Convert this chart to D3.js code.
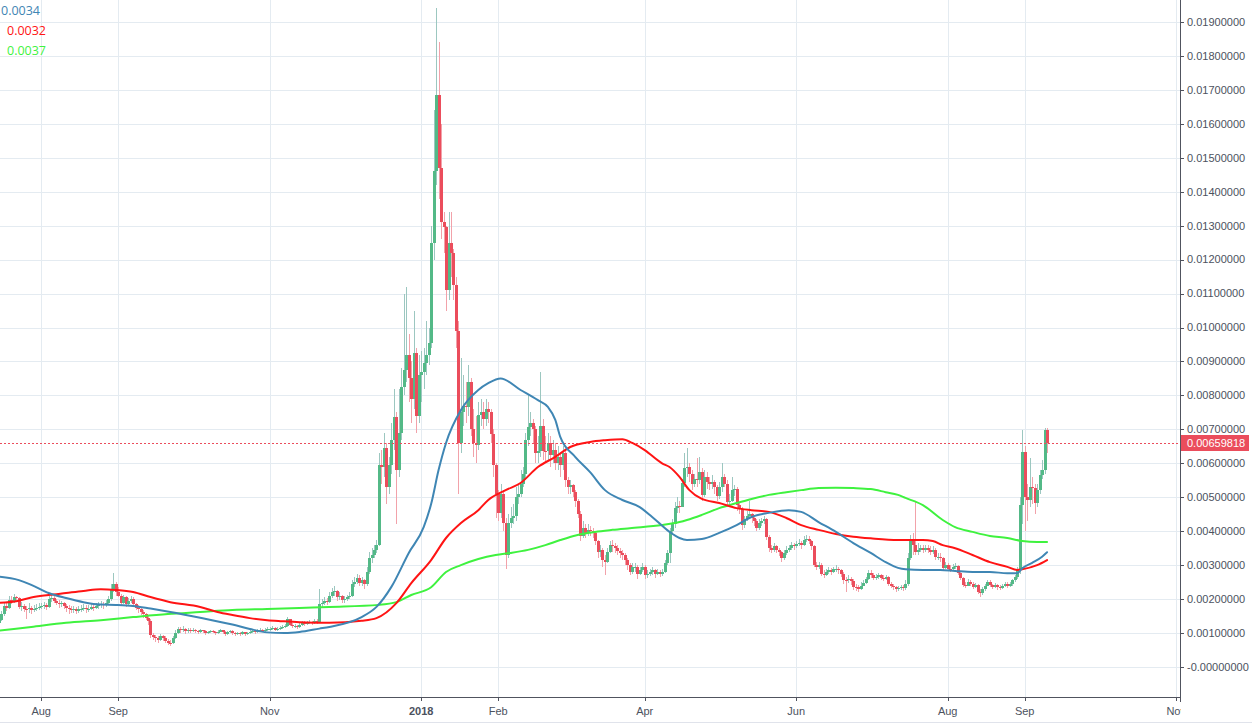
<!DOCTYPE html>
<html><head><meta charset="utf-8">
<script src="https://cdn.jsdelivr.net/npm/d3@7"></script>
<style>
html,body{margin:0;padding:0;background:#fff;overflow:hidden}
svg{display:block}
</style></head><body>
<svg id="chart" width="1252" height="724"></svg>
<script>
// ---------------- DATA (prices in units of 0.001 BTC) ----------------
const PRICE_UNIT = 0.001;
const firstOpen = 1.25;
// each row = one month of daily candles, starting at monthStarts[i]
const monthStarts = ["2017-07-14","2017-08-01","2017-09-01","2017-10-01","2017-11-01","2017-12-01",
  "2018-01-01","2018-02-01","2018-03-01","2018-04-01","2018-05-01","2018-06-01","2018-07-01","2018-08-01","2018-09-01"];
const closes = [
 [1.30,1.38,1.55,1.80,1.75,1.98,1.95,2.05,2.02,1.78,1.80,1.72,1.70,1.75,1.68,1.72,1.75,1.78],
 [1.80,1.82,1.78,2.00,2.02,1.95,1.90,1.85,1.88,1.80,1.75,1.72,1.68,1.70,1.65,1.70,1.72,1.75,1.70,1.72,1.78,1.75,1.80,1.82,1.85,1.82,1.90,2.00,2.30,2.45,2.20],
 [2.10,1.90,2.05,1.85,1.95,2.00,1.85,1.75,1.70,1.62,1.55,1.45,1.35,0.95,0.88,0.85,0.80,0.90,0.85,0.78,0.72,0.70,0.85,1.00,1.12,1.08,1.12,1.05,1.10,1.08],
 [1.10,1.05,1.02,1.08,1.05,1.00,1.02,1.06,1.03,1.00,1.04,1.08,1.02,0.98,1.03,1.05,1.00,0.97,1.00,0.96,1.02,0.98,1.00,1.04,1.06,1.03,1.08,1.10,1.06,1.10,1.12],
 [1.12,1.15,1.10,1.13,1.15,1.18,1.20,1.40,1.25,1.20,1.22,1.18,1.25,1.30,1.28,1.30,1.32,1.30,1.35,1.32,1.85,1.88,1.95,1.92,2.10,2.20,2.25,2.05,2.10,1.98],
 [2.00,2.05,2.10,2.45,2.50,2.62,2.48,2.55,2.45,2.80,3.20,3.30,3.45,3.60,5.95,5.90,6.45,5.30,5.95,6.70,7.35,5.80,6.90,8.25,8.75,9.20,8.50,7.90,9.25,7.40,8.60],
 [8.70,8.95,9.20,9.55,12.50,14.60,16.85,14.70,13.10,12.95,11.10,12.50,12.20,11.25,9.90,6.60,7.50,7.70,7.65,8.40,7.00,6.60,6.55,7.42,7.50,7.30,7.60,7.50,6.85,5.95,5.10],
 [4.55,5.10,4.25,3.30,4.25,4.40,4.45,5.00,5.10,5.40,5.70,6.68,7.07,7.20,7.00,6.30,6.35,7.10,6.37,6.35,6.60,6.25,6.40,6.00,6.20,5.95,6.30,5.50],
 [5.30,5.35,5.15,4.90,4.52,3.85,4.10,3.95,4.05,4.00,3.95,3.70,3.38,3.45,3.15,3.10,3.40,3.60,3.55,3.50,3.42,3.35,3.30,3.15,3.00,2.80,2.95,2.95,2.75,2.85,2.95],
 [2.70,2.75,2.80,2.85,2.75,2.80,2.75,2.80,3.05,3.35,4.00,4.20,4.68,4.75,4.72,5.42,5.86,5.90,5.70,5.40,5.55,5.50,5.75,5.07,5.60,5.45,5.40,5.45,5.30,5.05],
 [5.30,5.60,5.40,4.86,4.90,5.20,5.25,4.77,4.65,4.18,4.35,4.45,4.50,4.40,4.30,4.10,4.25,4.30,4.35,3.83,3.50,3.45,3.55,3.45,3.38,3.20,3.35,3.45,3.50,3.60,3.55],
 [3.62,3.65,3.58,3.75,3.78,3.72,3.55,3.00,2.95,3.00,2.75,2.72,2.80,2.85,2.80,2.88,2.90,2.85,2.75,2.56,2.55,2.60,2.52,2.36,2.35,2.30,2.40,2.48,2.58,2.77],
 [2.72,2.62,2.66,2.70,2.62,2.60,2.64,2.45,2.40,2.36,2.30,2.33,2.36,2.32,2.45,3.20,3.73,3.60,3.40,3.45,3.50,3.45,3.50,3.45,3.40,3.45,3.25,3.25,3.20,2.92,3.00],
 [2.90,2.88,2.95,2.97,2.76,2.61,2.42,2.40,2.50,2.45,2.37,2.42,2.22,2.17,2.30,2.40,2.50,2.42,2.37,2.42,2.35,2.33,2.40,2.45,2.40,2.45,2.55,2.65,2.85,4.77,6.33],
 [5.00,4.92,5.30,5.28,4.83,5.20,5.65,5.80,6.98,6.59818]
];
const highs = [
 [1.40,1.45,1.65,1.90,1.92,2.10,2.08,2.15,2.10,2.05,1.92,1.85,1.80,1.88,1.80,1.82,1.85,1.88],
 [1.88,1.92,1.88,2.08,2.12,2.08,2.00,1.98,1.95,1.92,1.85,1.82,1.80,1.80,1.78,1.80,1.82,1.85,1.82,1.82,1.88,1.85,1.90,1.92,1.95,1.92,1.98,2.10,2.45,2.77,2.50],
 [2.35,2.15,2.12,2.08,2.02,2.10,2.05,1.90,1.82,1.78,1.68,1.60,1.50,1.40,1.00,0.95,0.92,0.98,0.95,0.90,0.82,0.80,0.90,1.08,1.18,1.18,1.20,1.15,1.15,1.15],
 [1.15,1.13,1.08,1.12,1.10,1.08,1.06,1.10,1.08,1.05,1.08,1.12,1.10,1.05,1.07,1.10,1.08,1.03,1.04,1.02,1.06,1.04,1.04,1.08,1.12,1.09,1.12,1.15,1.12,1.14,1.18],
 [1.18,1.20,1.17,1.18,1.20,1.24,1.26,1.48,1.42,1.30,1.28,1.25,1.30,1.36,1.35,1.36,1.38,1.36,1.40,1.40,2.30,2.00,2.05,2.02,2.20,2.32,2.40,2.28,2.22,2.12],
 [2.10,2.12,2.20,2.55,2.65,2.75,2.70,2.65,2.60,2.95,3.40,3.50,3.60,3.75,6.30,6.40,6.90,6.60,6.20,7.20,8.20,7.50,8.20,8.80,11.0,11.2,9.80,9.00,10.5,9.40,9.20],
 [9.30,9.40,10.2,10.0,13.0,16.4,19.4,18.4,16.0,13.4,13.0,13.4,13.4,12.3,11.5,10.2,9.10,8.60,8.40,8.90,8.50,7.60,7.40,7.80,7.90,7.80,7.90,7.80,7.60,7.00,6.00],
 [5.20,5.40,5.20,4.40,4.50,4.70,4.80,5.30,5.40,5.80,5.90,6.90,8.00,7.50,7.30,7.10,6.80,8.70,7.30,6.80,6.90,6.80,6.70,6.60,6.50,6.30,6.50,6.40],
 [5.60,5.50,5.40,5.20,4.95,4.60,4.30,4.20,4.20,4.15,4.10,4.00,3.75,3.60,3.50,3.30,3.50,3.70,3.75,3.65,3.60,3.50,3.45,3.35,3.20,3.05,3.05,3.05,3.00,2.95,3.05],
 [3.00,2.85,2.90,2.95,2.90,2.90,2.85,2.90,3.15,3.45,4.10,4.35,4.85,5.00,4.90,5.55,6.30,6.45,6.00,5.80,5.70,6.15,6.20,5.85,5.80,5.75,5.60,5.65,5.50,5.35],
 [5.45,6.00,5.70,5.50,5.10,5.60,5.35,5.30,4.85,4.70,4.45,4.60,4.90,4.55,4.45,4.35,4.35,4.40,4.45,4.40,3.90,3.60,3.65,3.60,3.50,3.42,3.45,3.55,3.58,3.68,3.65],
 [3.72,3.78,3.70,3.85,3.88,3.85,3.75,3.58,3.10,3.10,3.05,2.85,2.90,2.95,2.92,2.95,3.00,2.95,2.90,2.80,2.65,2.70,2.65,2.58,2.45,2.42,2.50,2.55,2.65,2.85],
 [2.85,2.78,2.75,2.78,2.75,2.70,2.72,2.68,2.50,2.45,2.40,2.40,2.42,2.42,2.55,3.35,3.90,3.95,4.86,3.65,3.60,3.60,3.60,3.58,3.55,3.55,3.50,3.35,3.35,3.25,3.08],
 [3.05,3.00,3.02,3.05,3.00,2.80,2.65,2.50,2.58,2.55,2.50,2.48,2.45,2.30,2.35,2.45,2.55,2.55,2.45,2.48,2.45,2.42,2.45,2.50,2.50,2.50,2.60,2.72,2.95,5.00,6.98],
 [6.50,5.40,6.15,5.60,5.40,5.40,5.80,6.10,7.05,7.05]
];
const lows = [
 [1.22,1.25,1.35,1.50,1.65,1.70,1.85,1.90,1.92,1.70,1.65,1.62,1.40,1.60,1.55,1.62,1.65,1.68],
 [1.70,1.72,1.68,1.75,1.92,1.88,1.82,1.75,1.78,1.70,1.62,1.55,1.58,1.60,1.55,1.60,1.62,1.65,1.60,1.62,1.68,1.65,1.70,1.72,1.75,1.72,1.78,1.85,1.95,2.20,2.10],
 [2.05,1.80,1.85,1.78,1.80,1.88,1.80,1.68,1.60,1.52,1.45,1.38,1.25,0.85,0.80,0.75,0.72,0.78,0.78,0.70,0.66,0.62,0.68,0.82,0.98,1.00,1.02,0.98,1.00,1.00],
 [1.03,1.00,0.97,1.00,1.01,0.95,0.97,1.00,0.99,0.95,0.98,1.02,0.98,0.92,0.95,1.00,0.94,0.90,0.94,0.90,0.94,0.92,0.95,0.98,1.01,0.98,1.00,1.04,1.02,1.04,1.07],
 [1.07,1.08,1.05,1.07,1.10,1.12,1.14,1.18,1.20,1.14,1.15,1.12,1.16,1.22,1.22,1.24,1.26,1.24,1.28,1.26,1.30,1.75,1.82,1.82,1.90,2.02,2.08,1.95,1.98,1.90],
 [1.90,1.95,2.00,2.05,2.35,2.45,2.40,2.40,2.30,2.40,2.75,3.05,3.20,3.35,3.55,5.40,5.60,4.80,5.10,5.70,6.40,4.20,5.60,6.70,8.00,8.40,7.80,7.20,7.60,6.90,7.20],
 [7.80,8.20,8.60,8.90,9.40,12.0,14.2,13.8,12.6,12.2,10.5,10.8,11.5,10.8,9.40,5.10,6.30,7.10,7.20,7.40,6.80,6.20,6.00,6.40,7.10,7.00,7.10,7.20,6.60,5.60,4.40],
 [4.30,4.40,4.00,2.90,3.20,4.10,4.20,4.30,4.80,5.00,5.30,5.50,6.50,6.80,6.60,6.00,6.00,6.20,6.10,6.00,6.10,5.90,6.00,5.80,5.80,5.60,5.80,5.30],
 [5.10,5.10,5.00,4.70,4.40,3.70,3.80,3.80,3.85,3.85,3.80,3.60,3.20,3.25,2.95,2.70,3.05,3.35,3.40,3.35,3.30,3.20,3.15,3.00,2.85,2.70,2.75,2.80,2.60,2.70,2.80],
 [2.60,2.62,2.68,2.72,2.62,2.70,2.65,2.68,2.78,3.00,3.06,3.90,4.10,4.55,4.55,4.70,5.30,5.60,5.45,5.20,5.30,5.30,5.40,4.90,5.00,5.25,5.20,5.25,5.10,4.90],
 [4.95,5.15,5.30,4.75,4.70,4.85,5.05,4.60,4.50,4.05,4.10,4.30,4.35,4.25,4.15,4.00,4.05,4.15,4.20,3.75,3.40,3.35,3.40,3.35,3.28,3.10,3.15,3.30,3.40,3.45,3.45],
 [3.50,3.55,3.48,3.55,3.68,3.62,3.45,2.95,2.85,2.88,2.68,2.62,2.68,2.75,2.72,2.78,2.80,2.75,2.65,2.45,2.20,2.48,2.42,2.28,2.25,2.22,2.28,2.38,2.45,2.55],
 [2.62,2.55,2.55,2.60,2.55,2.52,2.55,2.40,2.32,2.28,2.20,2.25,2.28,2.25,2.28,2.40,3.15,3.30,3.30,3.30,3.38,3.35,3.38,3.35,3.30,3.32,3.15,3.15,3.10,2.85,2.88],
 [2.82,2.80,2.85,2.88,2.72,2.55,2.35,2.32,2.38,2.38,2.30,2.32,2.15,2.07,2.12,2.25,2.38,2.35,2.30,2.32,2.28,2.27,2.30,2.36,2.33,2.36,2.40,2.50,2.60,2.75,4.20],
 [4.00,4.30,4.70,4.80,4.50,4.70,5.10,5.55,5.70,6.30]
];
// moving averages: [date, value]
const maFast = [["2017-07-14",2.67],["2017-07-23",2.56],["2017-07-28",2.42],["2017-08-04",2.18],["2017-08-11",2.03],["2017-08-18",1.91],["2017-08-25",1.84],["2017-08-31",1.83],["2017-09-07",1.80],["2017-09-14",1.72],["2017-09-22",1.62],["2017-10-04",1.45],["2017-10-17",1.25],["2017-10-24",1.12],["2017-10-31",1.02],["2017-11-07",1.00],["2017-11-13",1.03],["2017-11-21",1.13],["2017-11-25",1.18],["2017-12-08",1.47],["2017-12-14",1.77],["2017-12-20",2.36],["2017-12-27",3.36],["2018-01-02",4.12],["2018-01-05",4.80],["2018-01-08",5.80],["2018-01-11",6.60],["2018-01-17",7.57],["2018-01-24",8.16],["2018-01-28",8.36],["2018-02-02",8.50],["2018-02-10",8.16],["2018-02-17",7.86],["2018-02-21",7.66],["2018-02-24",7.28],["2018-02-26",6.78],["2018-03-04",6.19],["2018-03-10",5.74],["2018-03-16",5.21],["2018-03-23",4.92],["2018-03-30",4.71],["2018-04-04",4.42],["2018-04-11",3.98],["2018-04-15",3.80],["2018-04-18",3.74],["2018-04-24",3.77],["2018-05-01",3.95],["2018-05-08",4.18],["2018-05-14",4.42],["2018-05-21",4.54],["2018-05-29",4.62],["2018-06-03",4.57],["2018-06-10",4.27],["2018-06-17",3.98],["2018-06-24",3.65],["2018-07-01",3.36],["2018-07-07",3.09],["2018-07-12",2.92],["2018-07-15",2.88],["2018-07-22",2.86],["2018-07-29",2.86],["2018-08-04",2.83],["2018-08-11",2.80],["2018-08-18",2.80],["2018-08-25",2.76],["2018-08-29",2.76],["2018-08-31",2.91],["2018-09-04",3.07],["2018-09-08",3.25],["2018-09-10",3.38]];
const maMid = [["2017-07-14",1.89],["2017-07-22",1.94],["2017-07-28",2.05],["2017-08-04",2.12],["2017-08-11",2.18],["2017-08-18",2.24],["2017-08-25",2.29],["2017-08-31",2.27],["2017-09-07",2.21],["2017-09-14",2.06],["2017-09-22",1.91],["2017-10-04",1.77],["2017-10-11",1.62],["2017-10-17",1.53],["2017-10-24",1.44],["2017-10-31",1.38],["2017-11-06",1.35],["2017-11-13",1.32],["2017-11-25",1.30],["2017-12-08",1.36],["2017-12-14",1.44],["2017-12-22",1.88],["2017-12-28",2.47],["2018-01-05",3.15],["2018-01-11",3.80],["2018-01-17",4.24],["2018-01-24",4.62],["2018-01-28",4.92],["2018-02-04",5.21],["2018-02-10",5.42],["2018-02-17",5.89],["2018-02-24",6.19],["2018-03-02",6.48],["2018-03-10",6.63],["2018-03-16",6.68],["2018-03-23",6.71],["2018-03-27",6.60],["2018-04-01",6.39],["2018-04-08",6.00],["2018-04-11",5.89],["2018-04-15",5.60],["2018-04-19",5.21],["2018-04-24",4.95],["2018-05-01",4.83],["2018-05-08",4.68],["2018-05-14",4.62],["2018-05-21",4.57],["2018-05-28",4.39],["2018-06-03",4.18],["2018-06-10",4.04],["2018-06-17",3.92],["2018-06-24",3.84],["2018-07-01",3.79],["2018-07-12",3.74],["2018-07-22",3.74],["2018-07-26",3.71],["2018-07-30",3.59],["2018-08-04",3.50],["2018-08-11",3.30],["2018-08-18",3.09],["2018-08-25",2.95],["2018-08-29",2.86],["2018-08-31",2.88],["2018-09-06",3.00],["2018-09-10",3.15]];
const maSlow = [["2017-07-14",1.06],["2017-07-28",1.18],["2017-08-11",1.30],["2017-08-25",1.38],["2017-09-07",1.47],["2017-09-21",1.56],["2017-10-04",1.62],["2017-10-17",1.68],["2017-10-31",1.71],["2017-11-13",1.74],["2017-11-25",1.77],["2017-12-15",1.83],["2017-12-22",1.91],["2017-12-28",2.12],["2018-01-05",2.35],["2018-01-11",2.80],["2018-01-17",3.00],["2018-01-24",3.18],["2018-01-31",3.30],["2018-02-06",3.36],["2018-02-13",3.45],["2018-02-20",3.59],["2018-02-26",3.74],["2018-03-05",3.89],["2018-03-12",3.98],["2018-03-19",4.04],["2018-03-26",4.09],["2018-04-08",4.18],["2018-04-15",4.27],["2018-04-18",4.33],["2018-04-24",4.48],["2018-05-01",4.68],["2018-05-08",4.83],["2018-05-14",4.95],["2018-05-21",5.07],["2018-05-28",5.15],["2018-06-03",5.21],["2018-06-10",5.27],["2018-06-17",5.28],["2018-06-24",5.27],["2018-07-01",5.24],["2018-07-07",5.15],["2018-07-12",5.07],["2018-07-15",4.98],["2018-07-22",4.77],["2018-07-30",4.33],["2018-08-04",4.12],["2018-08-11",3.98],["2018-08-18",3.86],["2018-08-25",3.80],["2018-08-31",3.71],["2018-09-06",3.68],["2018-09-10",3.68]];
const legendLabels = ["0.0034","0.0032","0.0037"];
const lastPrice = 6.59818;
const lastPriceLabel = "0.00659818";
const yTickValues = [0,1,2,3,4,5,6,7,8,9,10,11,12,13,14,15,16,17,18,19];
const yTickLabels = ["-0.00000000","0.00100000","0.00200000","0.00300000","0.00400000","0.00500000","0.00600000","0.00700000","0.00800000","0.00900000","0.01000000","0.01100000","0.01200000","0.01300000","0.01400000","0.01500000","0.01600000","0.01700000","0.01800000","0.01900000"];
const xTickDates = ["2017-08-01","2017-09-01","2017-11-01","2018-01-01","2018-02-01","2018-04-01","2018-06-01","2018-08-01","2018-09-01","2018-11-01"];
const xTickLabels = ["Aug","Sep","Nov","2018","Feb","Apr","Jun","Aug","Sep","Nov"];

// ---------------- CHART ----------------
const W = 1252, H = 724, plotRight = 1180, plotBottom = 697;
const colors = {up:"#53b987", down:"#eb4d5c", upWick:"#9cc7c0", downWick:"#f2a2aa",
  fast:"#3f86b4", mid:"#ff1414", slow:"#3ff23f", grid:"#e4ebf1", axis:"#50535e", text:"#4c525e"};
const parse = s => new Date(s + "T00:00:00Z");

const x = d3.scaleUtc().domain([parse("2017-08-01"), parse("2018-11-01")]).range([41.2, 1176.2]);
const y = d3.scaleLinear().domain([0, 0.019]).range([667, 22]);

const candles = [];
let prev = firstOpen * PRICE_UNIT;
monthStarts.forEach((s, m) => {
  const start = parse(s);
  closes[m].forEach((c, i) => {
    const date = new Date(start.getTime() + i * 86400000);
    const close = c * PRICE_UNIT, open = prev;
    const high = Math.max(highs[m][i] * PRICE_UNIT, open, close);
    const low = Math.min(lows[m][i] * PRICE_UNIT, open, close);
    candles.push({date, open, close, high, low});
    prev = close;
  });
});

const svg = d3.select("#chart");
svg.append("rect").attr("width", W).attr("height", H).attr("fill", "#fff");
const defs = svg.append("defs");
defs.append("clipPath").attr("id", "plotClip").append("rect").attr("x", 0).attr("y", 0).attr("width", plotRight).attr("height", plotBottom);
defs.append("clipPath").attr("id", "xAxisClip").append("rect").attr("x", 0).attr("y", plotBottom).attr("width", plotRight + 1).attr("height", H - plotBottom);

// grid
const grid = svg.append("g").attr("shape-rendering", "crispEdges");
grid.selectAll(".hg").data(yTickValues).join("line")
  .attr("x1", 0).attr("x2", plotRight)
  .attr("y1", d => Math.round(y(d * PRICE_UNIT)) + 0.5).attr("y2", d => Math.round(y(d * PRICE_UNIT)) + 0.5)
  .attr("stroke", colors.grid).attr("stroke-width", 1);
grid.selectAll(".vg").data(xTickDates).join("line")
  .attr("x1", d => Math.round(x(parse(d))) + 0.5).attr("x2", d => Math.round(x(parse(d))) + 0.5)
  .attr("y1", 0).attr("y2", plotBottom)
  .attr("stroke", colors.grid).attr("stroke-width", 1);

const plot = svg.append("g").attr("clip-path", "url(#plotClip)");

// candles
const cg = plot.append("g").attr("shape-rendering", "crispEdges");
cg.selectAll(".wick").data(candles).join("rect")
  .attr("x", d => Math.round(x(d.date)))
  .attr("width", 1)
  .attr("y", d => y(d.high))
  .attr("height", d => Math.max(1, y(d.low) - y(d.high)))
  .attr("fill", d => d.close >= d.open ? colors.upWick : colors.downWick);
cg.selectAll(".body").data(candles).join("rect")
  .attr("x", d => Math.round(x(d.date)) - 1)
  .attr("width", 3)
  .attr("y", d => y(Math.max(d.open, d.close)))
  .attr("height", d => Math.max(1, Math.abs(y(d.open) - y(d.close))))
  .attr("fill", d => d.close >= d.open ? colors.up : colors.down);

// last price line
plot.append("line")
  .attr("x1", 0).attr("x2", plotRight)
  .attr("y1", Math.round(y(lastPrice * PRICE_UNIT)) + 0.5).attr("y2", Math.round(y(lastPrice * PRICE_UNIT)) + 0.5)
  .attr("stroke", colors.down).attr("stroke-width", 1).attr("stroke-dasharray", "2,2");

// moving averages
const line = d3.line().x(d => x(parse(d[0]))).y(d => y(d[1] * PRICE_UNIT)).curve(d3.curveMonotoneX);
[[maSlow, colors.slow], [maMid, colors.mid], [maFast, colors.fast]].forEach(([data, c]) => {
  plot.append("path").attr("d", line(data)).attr("fill", "none").attr("stroke", c)
    .attr("stroke-width", 2).attr("stroke-linejoin", "round").attr("stroke-linecap", "round");
});

// right axis
const ra = svg.append("g");
ra.append("line").attr("x1", plotRight + 0.5).attr("x2", plotRight + 0.5).attr("y1", 0).attr("y2", plotBottom + 5)
  .attr("stroke", colors.axis).attr("shape-rendering", "crispEdges");
ra.selectAll(".yt").data(yTickValues).join("line")
  .attr("x1", plotRight).attr("x2", plotRight + 4)
  .attr("y1", d => Math.round(y(d * PRICE_UNIT)) + 0.5).attr("y2", d => Math.round(y(d * PRICE_UNIT)) + 0.5)
  .attr("stroke", colors.axis).attr("shape-rendering", "crispEdges");
ra.selectAll(".yl").data(yTickValues).join("text")
  .attr("x", plotRight + 7).attr("y", d => y(d * PRICE_UNIT)).attr("dy", "0.35em")
  .attr("font-family", "Liberation Sans, Arial, sans-serif").attr("font-size", 11)
  .attr("fill", colors.text).text((d, i) => yTickLabels[i]);

// last price label
const ly = y(lastPrice * PRICE_UNIT);
ra.append("rect").attr("x", plotRight + 1).attr("y", Math.round(ly) - 8).attr("width", 68).attr("height", 16).attr("fill", colors.down);
ra.append("text").attr("x", plotRight + 7).attr("y", ly).attr("dy", "0.35em")
  .attr("font-family", "Liberation Sans, Arial, sans-serif").attr("font-size", 11).attr("fill", "#fff").text(lastPriceLabel);

// bottom axis
const ba = svg.append("g");
ba.append("line").attr("x1", 0).attr("x2", plotRight + 1).attr("y1", plotBottom + 0.5).attr("y2", plotBottom + 0.5)
  .attr("stroke", colors.axis).attr("shape-rendering", "crispEdges");
const bat = ba.append("g").attr("clip-path", "url(#xAxisClip)");
bat.selectAll(".xt").data(xTickDates).join("line")
  .attr("x1", d => Math.round(x(parse(d))) + 0.5).attr("x2", d => Math.round(x(parse(d))) + 0.5)
  .attr("y1", plotBottom).attr("y2", plotBottom + 4)
  .attr("stroke", colors.axis).attr("shape-rendering", "crispEdges");
bat.selectAll(".xl").data(xTickDates).join("text")
  .attr("x", d => x(parse(d))).attr("y", 711).attr("dy", "0.35em").attr("text-anchor", "middle")
  .attr("font-family", "Liberation Sans, Arial, sans-serif").attr("font-size", 11)
  .attr("font-weight", (d, i) => xTickLabels[i] === "2018" ? "bold" : "normal")
  .attr("fill", colors.text).text((d, i) => xTickLabels[i]);
svg.append("line").attr("x1", 0).attr("x2", W).attr("y1", 722.5).attr("y2", 722.5)
  .attr("stroke", "#e0e3eb").attr("shape-rendering", "crispEdges");

// legend
const lg = svg.append("g").attr("font-family", "Open Sans, DejaVu Sans, sans-serif").attr("font-size", 12.5);
[[legendLabels[0], colors.fast, 1, 11], [legendLabels[1], colors.mid, 7, 31], [legendLabels[2], colors.slow, 7, 51]]
  .forEach(([t, c, lx, lyy]) => {
    lg.append("text").attr("x", lx).attr("y", lyy).attr("dy", "0.35em").attr("fill", c).text(t);
  });
</script>
</body></html>
